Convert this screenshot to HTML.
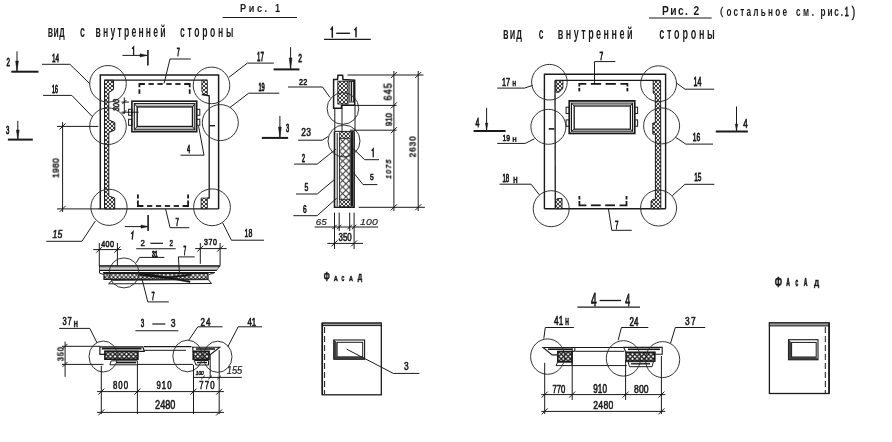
<!DOCTYPE html>
<html><head><meta charset="utf-8"><style>
html,body{margin:0;padding:0;background:#fff;width:892px;height:442px;overflow:hidden}
svg{display:block} text{will-change:transform}
text{font-family:"Liberation Sans",sans-serif}
</style></head><body>
<svg width="892" height="442" viewBox="0 0 892 442">
<defs>
<pattern id="dots" width="4" height="4" patternUnits="userSpaceOnUse"><rect width="4" height="4" fill="#1a1a1a"/><circle cx="0" cy="0" r="1.2" fill="#f0f0f0"/><circle cx="4" cy="0" r="1.2" fill="#f0f0f0"/><circle cx="0" cy="4" r="1.2" fill="#f0f0f0"/><circle cx="4" cy="4" r="1.2" fill="#f0f0f0"/><circle cx="2" cy="2" r="1.2" fill="#f0f0f0"/></pattern>
<pattern id="xdots" width="4.6" height="4.6" patternUnits="userSpaceOnUse"><rect width="4.6" height="4.6" fill="#fff"/><path d="M0,0 L4.6,4.6 M4.6,0 L0,4.6" stroke="#1a1a1a" stroke-width="1.3"/></pattern>
<pattern id="diam" width="4.2" height="4.2" patternUnits="userSpaceOnUse"><rect width="4.2" height="4.2" fill="#fff"/><path d="M-1,1 L1,-1 M0,4.2 L4.2,0 M3.2,5.2 L5.2,3.2 M-1,3.2 L1,5.2 M0,0 L4.2,4.2 M3.2,-1 L5.2,1" stroke="#222" stroke-width="1.0"/></pattern>
<pattern id="xh" width="6.5" height="6.5" patternUnits="userSpaceOnUse" x="339.4" y="138.3"><rect width="6.5" height="6.5" fill="#fff"/><path d="M0,0 L6.5,6.5 M6.5,0 L0,6.5" stroke="#333" stroke-width="1.0"/></pattern>
</defs>
<rect width="892" height="442" fill="#fff"/>
<text transform="translate(240.00,12.39) scale(0.800,1)" font-size="11.43" font-weight="bold" font-style="normal" fill="#1a1a1a" letter-spacing="3.26">Рис. 1</text>
<line x1="222.5" y1="17.5" x2="297" y2="17.5" stroke="#1a1a1a" stroke-width="1.2" />
<text transform="translate(47.80,36.80) scale(0.550,1)" font-size="15.66" font-weight="bold" font-style="normal" fill="#1a1a1a" letter-spacing="0.76">вид</text>
<text transform="translate(79.90,36.80) scale(0.564,1)" font-size="15.66" font-weight="bold" font-style="normal" fill="#1a1a1a">с</text>
<text transform="translate(95.60,36.80) scale(0.550,1)" font-size="15.66" font-weight="bold" font-style="normal" fill="#1a1a1a" letter-spacing="4.01">внутренней</text>
<text transform="translate(180.10,36.80) scale(0.550,1)" font-size="15.66" font-weight="bold" font-style="normal" fill="#1a1a1a" letter-spacing="4.83">стороны</text>
<polyline points="330.6,29.8 332.3,27.6 332.3,37.7" stroke="#1a1a1a" stroke-width="1.5" fill="none" />
<line x1="336.2" y1="33.3" x2="349.9" y2="33.3" stroke="#1a1a1a" stroke-width="1.4" />
<polyline points="354.4,30.3 356,28.3 356,37.3" stroke="#1a1a1a" stroke-width="1.5" fill="none" />
<line x1="324" y1="39.3" x2="370.8" y2="39.3" stroke="#1a1a1a" stroke-width="1.2" />
<text transform="translate(661.90,15.37) scale(0.800,1)" font-size="12.82" font-weight="bold" font-style="normal" fill="#1a1a1a" letter-spacing="1.79">Рис. 2</text>
<line x1="649" y1="18" x2="711.7" y2="18" stroke="#1a1a1a" stroke-width="1.2" />
<text transform="translate(720.05,14.92) scale(0.853,1)" font-size="11.55" font-weight="normal" font-style="normal" fill="#1a1a1a" stroke="#1a1a1a" stroke-width="0.35">(</text>
<text transform="translate(726.40,16.00) scale(0.620,1)" font-size="13.21" font-weight="bold" font-style="normal" fill="#1a1a1a" letter-spacing="3.60">остальное</text>
<text transform="translate(796.00,16.00) scale(0.620,1)" font-size="13.21" font-weight="bold" font-style="normal" fill="#1a1a1a" letter-spacing="4.12">см.</text>
<text transform="translate(820.50,16.00) scale(0.620,1)" font-size="13.21" font-weight="bold" font-style="normal" fill="#1a1a1a" letter-spacing="3.03">рис.</text>
<text transform="translate(844.73,15.77) scale(0.561,1)" font-size="12.68" font-weight="normal" font-style="normal" fill="#1a1a1a" stroke="#1a1a1a" stroke-width="0.80">1</text>
<text transform="translate(851.65,16.86) scale(0.734,1)" font-size="14.22" font-weight="normal" font-style="normal" fill="#1a1a1a" stroke="#1a1a1a" stroke-width="0.41">)</text>
<text transform="translate(503.00,38.70) scale(0.550,1)" font-size="16.42" font-weight="bold" font-style="normal" fill="#1a1a1a" letter-spacing="1.97">вид</text>
<text transform="translate(538.70,38.70) scale(0.516,1)" font-size="16.42" font-weight="bold" font-style="normal" fill="#1a1a1a">с</text>
<text transform="translate(557.70,38.70) scale(0.550,1)" font-size="16.42" font-weight="bold" font-style="normal" fill="#1a1a1a" letter-spacing="4.49">внутренней</text>
<text transform="translate(659.30,38.70) scale(0.550,1)" font-size="16.42" font-weight="bold" font-style="normal" fill="#1a1a1a" letter-spacing="4.99">стороны</text>
<text transform="translate(323.85,280.98) scale(0.517,1)" font-size="13.57" font-weight="bold" font-style="normal" fill="#1a1a1a" stroke="#1a1a1a" stroke-width="0.58">Ф</text>
<text transform="translate(333.68,280.62) scale(0.699,1)" font-size="8.04" font-weight="bold" font-style="normal" fill="#1a1a1a" stroke="#1a1a1a" stroke-width="0.50">А</text>
<text transform="translate(341.57,280.55) scale(0.489,1)" font-size="7.82" font-weight="bold" font-style="normal" fill="#1a1a1a" stroke="#1a1a1a" stroke-width="0.72">С</text>
<text transform="translate(349.07,280.62) scale(0.682,1)" font-size="8.04" font-weight="bold" font-style="normal" fill="#1a1a1a" stroke="#1a1a1a" stroke-width="0.51">А</text>
<text transform="translate(357.68,279.91) scale(0.713,1)" font-size="8.60" font-weight="bold" font-style="normal" fill="#1a1a1a" stroke="#1a1a1a" stroke-width="0.49">Д</text>
<text transform="translate(774.65,286.58) scale(0.623,1)" font-size="13.71" font-weight="bold" font-style="normal" fill="#1a1a1a" stroke="#1a1a1a" stroke-width="0.48">Ф</text>
<text transform="translate(786.27,286.22) scale(0.503,1)" font-size="10.07" font-weight="bold" font-style="normal" fill="#1a1a1a" stroke="#1a1a1a" stroke-width="0.70">А</text>
<text transform="translate(795.38,286.13) scale(0.376,1)" font-size="9.79" font-weight="bold" font-style="normal" fill="#1a1a1a" stroke="#1a1a1a" stroke-width="0.93">С</text>
<text transform="translate(803.77,286.22) scale(0.503,1)" font-size="10.07" font-weight="bold" font-style="normal" fill="#1a1a1a" stroke="#1a1a1a" stroke-width="0.70">А</text>
<text transform="translate(813.97,285.72) scale(0.802,1)" font-size="9.04" font-weight="bold" font-style="normal" fill="#1a1a1a" stroke="#1a1a1a" stroke-width="0.44">Д</text>
<polyline points="100.3,208.9 100.3,74.9 218.6,74.9 218.6,208.9" stroke="#1a1a1a" stroke-width="1.5" fill="none" />
<line x1="98" y1="208.9" x2="218.6" y2="208.9" stroke="#1a1a1a" stroke-width="1.4" />
<line x1="104.2" y1="80.2" x2="207.4" y2="80.2" stroke="#1a1a1a" stroke-width="1.3" />
<polyline points="201.8,94.5 209.2,95.8 209.2,198 207.4,198" stroke="#1a1a1a" stroke-width="1.3" fill="none" />
<polygon points="104.5,80.3 113.5,80.3 113.5,89.5 108.8,92.5 108.8,120 114.8,122.5 114.8,130 108.8,132.5 108.8,196 114.7,198 114.7,208.9 104.5,208.9" stroke="#1a1a1a" stroke-width="1.0" fill="url(#dots)" />
<polygon points="201.8,80.3 207.4,80.3 207.4,94.5 203.5,94.5 201.8,91" stroke="#1a1a1a" stroke-width="0.8" fill="url(#dots)" />
<polygon points="201.1,198.1 207.4,198.1 207.4,208.7 201.1,208.7" stroke="#1a1a1a" stroke-width="0.8" fill="url(#dots)" />
<line x1="139.4" y1="93.8" x2="139.4" y2="89.3" stroke="#1a1a1a" stroke-width="1.8" />
<polyline points="139.4,87.3 139.4,84 144.9,84" stroke="#1a1a1a" stroke-width="1.8" fill="none" />
<line x1="189.7" y1="93.8" x2="189.7" y2="89.3" stroke="#1a1a1a" stroke-width="1.8" />
<polyline points="189.7,87.3 189.7,84 184.2,84" stroke="#1a1a1a" stroke-width="1.8" fill="none" />
<line x1="148.5" y1="84" x2="153.82" y2="84" stroke="#1a1a1a" stroke-width="1.8" />
<line x1="157.42" y1="84" x2="162.75" y2="84" stroke="#1a1a1a" stroke-width="1.8" />
<line x1="166.35" y1="84" x2="171.67" y2="84" stroke="#1a1a1a" stroke-width="1.8" />
<line x1="175.27" y1="84" x2="180.6" y2="84" stroke="#1a1a1a" stroke-width="1.8" />
<line x1="137.9" y1="194.5" x2="137.9" y2="198.5" stroke="#1a1a1a" stroke-width="1.8" />
<polyline points="137.9,200.5 137.9,206 143.4,206" stroke="#1a1a1a" stroke-width="1.8" fill="none" />
<line x1="188.1" y1="194.5" x2="188.1" y2="198.5" stroke="#1a1a1a" stroke-width="1.8" />
<polyline points="188.1,200.5 188.1,206 182.6,206" stroke="#1a1a1a" stroke-width="1.8" fill="none" />
<line x1="147.0" y1="206" x2="152.3" y2="206" stroke="#1a1a1a" stroke-width="1.8" />
<line x1="155.9" y1="206" x2="161.2" y2="206" stroke="#1a1a1a" stroke-width="1.8" />
<line x1="164.8" y1="206" x2="170.1" y2="206" stroke="#1a1a1a" stroke-width="1.8" />
<line x1="173.7" y1="206" x2="179.0" y2="206" stroke="#1a1a1a" stroke-width="1.8" />
<rect x="131.9" y="101.2" width="64.8" height="30.5" stroke="#1a1a1a" stroke-width="1.6" fill="none" />
<rect x="134.3" y="103.6" width="60.5" height="26.2" stroke="#1a1a1a" stroke-width="1.1" fill="none" />
<rect x="137.2" y="106.9" width="55.3" height="19.6" stroke="#1a1a1a" stroke-width="1.4" fill="none" />
<line x1="134.3" y1="103.6" x2="137.2" y2="106.9" stroke="#1a1a1a" stroke-width="1.0" />
<line x1="194.8" y1="103.6" x2="192.5" y2="106.9" stroke="#1a1a1a" stroke-width="1.0" />
<line x1="134.3" y1="129.8" x2="137.2" y2="126.5" stroke="#1a1a1a" stroke-width="1.0" />
<line x1="194.8" y1="129.8" x2="192.5" y2="126.5" stroke="#1a1a1a" stroke-width="1.0" />
<line x1="135.5" y1="105.2" x2="193.5" y2="105.2" stroke="#666" stroke-width="0.7" />
<line x1="135.5" y1="128.2" x2="193.5" y2="128.2" stroke="#666" stroke-width="0.7" />
<rect x="128.6" y="109.3" width="3.3" height="6" stroke="#1a1a1a" stroke-width="1.0" fill="none" />
<rect x="196.7" y="109.3" width="3.1" height="6" stroke="#1a1a1a" stroke-width="1.0" fill="none" />
<rect x="128.6" y="119.3" width="3.3" height="6" stroke="#1a1a1a" stroke-width="1.0" fill="none" />
<rect x="196.7" y="119.3" width="3.1" height="6" stroke="#1a1a1a" stroke-width="1.0" fill="none" />
<line x1="209.5" y1="125.7" x2="215" y2="125.7" stroke="#1a1a1a" stroke-width="1.4" />
<circle cx="108" cy="83.8" r="18.3" stroke="#2a2a2a" stroke-width="0.95" fill="none"/>
<circle cx="211.5" cy="85.4" r="18.3" stroke="#2a2a2a" stroke-width="0.95" fill="none"/>
<circle cx="108" cy="126.2" r="18.3" stroke="#2a2a2a" stroke-width="0.95" fill="none"/>
<circle cx="220.3" cy="122.6" r="18.0" stroke="#2a2a2a" stroke-width="0.95" fill="none"/>
<circle cx="109" cy="207.3" r="18.1" stroke="#2a2a2a" stroke-width="0.95" fill="none"/>
<circle cx="212" cy="207.3" r="18.4" stroke="#2a2a2a" stroke-width="0.95" fill="none"/>
<line x1="124.3" y1="97.4" x2="124.3" y2="114" stroke="#1a1a1a" stroke-width="1.0" />
<line x1="121.4" y1="102.1" x2="129" y2="102.1" stroke="#1a1a1a" stroke-width="1.0" />
<line x1="121.4" y1="112.2" x2="138.6" y2="112.2" stroke="#1a1a1a" stroke-width="1.0" />
<line x1="122.3" y1="104.1" x2="126.3" y2="100.1" stroke="#1a1a1a" stroke-width="1.0" />
<line x1="122.3" y1="114.2" x2="126.3" y2="110.2" stroke="#1a1a1a" stroke-width="1.0" />
<text transform="translate(119.18,111.28) rotate(-90) scale(0.760,1)" font-size="9.65" font-weight="normal" font-style="italic" fill="#1a1a1a" stroke="#1a1a1a" stroke-width="0.59">300</text>
<line x1="57" y1="126.4" x2="98.4" y2="126.4" stroke="#1a1a1a" stroke-width="1.0" />
<line x1="57" y1="208.9" x2="98" y2="208.9" stroke="#1a1a1a" stroke-width="1.0" />
<line x1="62.6" y1="122" x2="62.6" y2="212" stroke="#1a1a1a" stroke-width="1.0" />
<line x1="59.6" y1="129.4" x2="65.6" y2="123.4" stroke="#1a1a1a" stroke-width="1.0" />
<line x1="59.6" y1="211.9" x2="65.6" y2="205.9" stroke="#1a1a1a" stroke-width="1.0" />
<text transform="translate(58.68,177.78) rotate(-90) scale(0.850,1)" font-size="9.93" font-weight="normal" font-style="normal" fill="#1a1a1a" letter-spacing="0.30" stroke="#1a1a1a" stroke-width="0.53">1980</text>
<line x1="17" y1="51.3" x2="17" y2="71" stroke="#1a1a1a" stroke-width="1.0" />
<polygon points="15.6,61 18.4,61 17,71" stroke="#1a1a1a" stroke-width="0.5" fill="#1a1a1a" />
<line x1="11.3" y1="71.7" x2="38.5" y2="71.7" stroke="#1a1a1a" stroke-width="2.0" />
<text transform="translate(6.52,66.28) scale(0.584,1)" font-size="10.64" font-weight="normal" font-style="normal" fill="#1a1a1a" stroke="#1a1a1a" stroke-width="0.77">2</text>
<line x1="290.6" y1="47.2" x2="290.6" y2="69" stroke="#1a1a1a" stroke-width="1.0" />
<polygon points="289.2,58 292,58 290.6,69" stroke="#1a1a1a" stroke-width="0.5" fill="#1a1a1a" />
<line x1="273.6" y1="69.4" x2="299.4" y2="69.4" stroke="#1a1a1a" stroke-width="2.0" />
<text transform="translate(298.23,62.38) scale(0.602,1)" font-size="10.93" font-weight="normal" font-style="normal" fill="#1a1a1a" stroke="#1a1a1a" stroke-width="0.75">2</text>
<line x1="17.8" y1="120.8" x2="17.8" y2="138.9" stroke="#1a1a1a" stroke-width="1.0" />
<polygon points="16.4,130 19.2,130 17.8,138.9" stroke="#1a1a1a" stroke-width="0.5" fill="#1a1a1a" />
<line x1="7.9" y1="139.6" x2="32.8" y2="139.6" stroke="#1a1a1a" stroke-width="2.0" />
<text transform="translate(5.92,134.06) scale(0.539,1)" font-size="11.20" font-weight="normal" font-style="normal" fill="#1a1a1a" stroke="#1a1a1a" stroke-width="0.83">3</text>
<line x1="279.9" y1="115.9" x2="279.9" y2="137.6" stroke="#1a1a1a" stroke-width="1.0" />
<polygon points="278.5,127 281.3,127 279.9,137.6" stroke="#1a1a1a" stroke-width="0.5" fill="#1a1a1a" />
<line x1="261.8" y1="137.9" x2="288.1" y2="137.9" stroke="#1a1a1a" stroke-width="2.0" />
<text transform="translate(286.03,132.26) scale(0.494,1)" font-size="11.48" font-weight="normal" font-style="normal" fill="#1a1a1a" stroke="#1a1a1a" stroke-width="0.91">3</text>
<line x1="147.9" y1="50" x2="147.9" y2="65.4" stroke="#1a1a1a" stroke-width="1.6" />
<line x1="122.5" y1="55.4" x2="147" y2="55.4" stroke="#1a1a1a" stroke-width="1.0" />
<polygon points="140,53.8 140,57 147,55.4" stroke="#1a1a1a" stroke-width="0.5" fill="#1a1a1a" />
<polyline points="132,48.8 133.6,47 133.6,55" stroke="#1a1a1a" stroke-width="1.3" fill="none" />
<line x1="148.1" y1="215" x2="148.1" y2="231" stroke="#1a1a1a" stroke-width="1.6" />
<line x1="124.8" y1="226.6" x2="148" y2="226.6" stroke="#1a1a1a" stroke-width="1.0" />
<polygon points="141,225 141,228.2 148,226.6" stroke="#1a1a1a" stroke-width="0.5" fill="#1a1a1a" />
<polyline points="131.2,233.8 133,231.8 132.2,239.6" stroke="#1a1a1a" stroke-width="1.3" fill="none" />
<polyline points="41.9,64.3 69.9,64.3 89.8,83.6" stroke="#1a1a1a" stroke-width="1.0" fill="none" />
<text transform="translate(52.02,61.98) scale(0.544,1)" font-size="11.67" font-weight="normal" font-style="normal" fill="#1a1a1a" letter-spacing="-0.00" stroke="#1a1a1a" stroke-width="0.83">14</text>
<polyline points="43.1,95.4 71.8,95.4 92.3,116.6" stroke="#1a1a1a" stroke-width="1.0" fill="none" />
<text transform="translate(52.02,92.66) scale(0.471,1)" font-size="11.20" font-weight="normal" font-style="normal" fill="#1a1a1a" stroke="#1a1a1a" stroke-width="0.96">16</text>
<polyline points="46.3,241.3 81.9,241.3 95.4,220.9" stroke="#1a1a1a" stroke-width="1.0" fill="none" />
<text transform="translate(52.62,237.67) scale(0.811,1)" font-size="10.79" font-weight="normal" font-style="italic" fill="#1a1a1a" stroke="#1a1a1a" stroke-width="0.56">15</text>
<polyline points="273.8,63.1 247.4,63.1 229,77.3" stroke="#1a1a1a" stroke-width="1.0" fill="none" />
<text transform="translate(257.12,60.78) scale(0.464,1)" font-size="13.12" font-weight="normal" font-style="normal" fill="#1a1a1a" stroke="#1a1a1a" stroke-width="0.97">17</text>
<polyline points="279.3,93.2 248.7,93.2 230,107.5" stroke="#1a1a1a" stroke-width="1.0" fill="none" />
<text transform="translate(258.43,91.46) scale(0.492,1)" font-size="11.62" font-weight="normal" font-style="normal" fill="#1a1a1a" stroke="#1a1a1a" stroke-width="0.91">19</text>
<polyline points="190.8,59 170,59 164,83.5" stroke="#1a1a1a" stroke-width="1.0" fill="none" />
<text transform="translate(176.72,56.28) scale(0.471,1)" font-size="11.67" font-weight="normal" font-style="normal" fill="#1a1a1a" stroke="#1a1a1a" stroke-width="0.96">7</text>
<polyline points="165.6,209 170.1,227.7 189.3,227.7" stroke="#1a1a1a" stroke-width="1.0" fill="none" />
<text transform="translate(175.53,225.78) scale(0.599,1)" font-size="10.07" font-weight="normal" font-style="normal" fill="#1a1a1a" stroke="#1a1a1a" stroke-width="0.75">7</text>
<polyline points="198.6,126.2 204,155.2 180.5,155.2" stroke="#1a1a1a" stroke-width="1.0" fill="none" />
<text transform="translate(187.03,153.08) scale(0.499,1)" font-size="11.38" font-weight="normal" font-style="normal" fill="#1a1a1a" stroke="#1a1a1a" stroke-width="0.90">4</text>
<polyline points="222.6,222.6 231.4,240.2 264,240.2" stroke="#1a1a1a" stroke-width="1.0" fill="none" />
<text transform="translate(244.53,237.17) scale(0.648,1)" font-size="10.77" font-weight="normal" font-style="normal" fill="#1a1a1a" stroke="#1a1a1a" stroke-width="0.69">18</text>
<polygon points="333.6,108.2 333.6,79.4 337.5,79.4 338,75.3 342.6,75.2 343,79.6 354.7,80.2 354.7,105.3 341.5,105.3 341.5,108.2" stroke="#1a1a1a" stroke-width="1.5" fill="none" />
<rect x="337.8" y="81.2" width="10.2" height="22.8" stroke="#1a1a1a" stroke-width="0.9" fill="url(#dots)" />
<rect x="349.2" y="81.5" width="4.4" height="20.5" stroke="#1a1a1a" stroke-width="0.9" fill="#fff" />
<line x1="351.4" y1="82" x2="351.4" y2="101.5" stroke="#1a1a1a" stroke-width="1.5" />
<line x1="334.8" y1="108.2" x2="334.8" y2="131.4" stroke="#1a1a1a" stroke-width="1.0" />
<line x1="342" y1="105.3" x2="342" y2="131.4" stroke="#1a1a1a" stroke-width="1.0" />
<line x1="355" y1="105.3" x2="355" y2="131.4" stroke="#1a1a1a" stroke-width="1.0" />
<polyline points="334.5,131.4 334.5,207.2 354.1,207.2 354.1,131.4" stroke="#1a1a1a" stroke-width="1.6" fill="none" />
<line x1="334.5" y1="131.4" x2="354.1" y2="131.4" stroke="#1a1a1a" stroke-width="1.0" />
<line x1="337.2" y1="133" x2="337.2" y2="206" stroke="#1a1a1a" stroke-width="1.0" />
<rect x="339.4" y="131.8" width="10.8" height="6.5" stroke="#1a1a1a" stroke-width="0.6" fill="url(#dots)" />
<rect x="339.4" y="138.3" width="10.8" height="61.6" stroke="#1a1a1a" stroke-width="0.9" fill="url(#xh)" />
<rect x="339.4" y="199.9" width="10.8" height="6.8" stroke="#1a1a1a" stroke-width="0.6" fill="url(#dots)" />
<line x1="351.9" y1="132" x2="351.9" y2="206.5" stroke="#1a1a1a" stroke-width="2.2" />
<circle cx="342.9" cy="108.5" r="15.8" stroke="#2a2a2a" stroke-width="0.95" fill="none"/>
<circle cx="344" cy="141" r="16" stroke="#2a2a2a" stroke-width="0.95" fill="none"/>
<line x1="347.5" y1="75" x2="423.5" y2="75" stroke="#1a1a1a" stroke-width="1.0" />
<line x1="342.8" y1="105.4" x2="396.6" y2="105.4" stroke="#1a1a1a" stroke-width="1.0" />
<line x1="350" y1="130.2" x2="396.6" y2="130.2" stroke="#1a1a1a" stroke-width="1.0" />
<line x1="358.7" y1="207.3" x2="424.9" y2="207.3" stroke="#1a1a1a" stroke-width="1.0" />
<line x1="393.9" y1="71" x2="393.9" y2="211" stroke="#1a1a1a" stroke-width="1.0" />
<line x1="418.2" y1="71" x2="418.2" y2="211" stroke="#1a1a1a" stroke-width="1.0" />
<line x1="390.9" y1="78" x2="396.9" y2="72" stroke="#1a1a1a" stroke-width="1.0" />
<line x1="390.9" y1="108.4" x2="396.9" y2="102.4" stroke="#1a1a1a" stroke-width="1.0" />
<line x1="390.9" y1="133.2" x2="396.9" y2="127.19999999999999" stroke="#1a1a1a" stroke-width="1.0" />
<line x1="390.9" y1="210.3" x2="396.9" y2="204.3" stroke="#1a1a1a" stroke-width="1.0" />
<line x1="415.2" y1="78" x2="421.2" y2="72" stroke="#1a1a1a" stroke-width="1.0" />
<line x1="415.2" y1="210.3" x2="421.2" y2="204.3" stroke="#1a1a1a" stroke-width="1.0" />
<text transform="translate(391.67,100.48) rotate(-90) scale(0.850,1)" font-size="10.63" font-weight="normal" font-style="normal" fill="#1a1a1a" letter-spacing="1.27" stroke="#1a1a1a" stroke-width="0.53">645</text>
<text transform="translate(391.68,126.08) rotate(-90) scale(0.793,1)" font-size="9.93" font-weight="normal" font-style="normal" fill="#1a1a1a" stroke="#1a1a1a" stroke-width="0.57">910</text>
<text transform="translate(391.10,178.68) rotate(-90) scale(0.850,1)" font-size="7.96" font-weight="normal" font-style="italic" fill="#1a1a1a" letter-spacing="1.48" stroke="#1a1a1a" stroke-width="0.53">1075</text>
<text transform="translate(415.48,157.28) rotate(-90) scale(0.850,1)" font-size="9.51" font-weight="normal" font-style="normal" fill="#1a1a1a" letter-spacing="1.13" stroke="#1a1a1a" stroke-width="0.53">2630</text>
<polyline points="288,87 322.5,87 330,97.5" stroke="#1a1a1a" stroke-width="1.0" fill="none" />
<text transform="translate(299.03,84.97) scale(0.750,1)" font-size="9.64" font-weight="normal" font-style="normal" fill="#1a1a1a" letter-spacing="0.30" stroke="#1a1a1a" stroke-width="0.60">22</text>
<polyline points="298.1,140.2 322.2,140.2 328.2,136.5" stroke="#1a1a1a" stroke-width="1.0" fill="none" />
<text transform="translate(301.23,136.16) scale(0.750,1)" font-size="11.34" font-weight="normal" font-style="normal" fill="#1a1a1a" letter-spacing="0.41" stroke="#1a1a1a" stroke-width="0.60">23</text>
<polyline points="294.2,164.1 317.2,164.1 335.8,149.2" stroke="#1a1a1a" stroke-width="1.0" fill="none" />
<text transform="translate(302.12,161.78) scale(0.462,1)" font-size="11.50" font-weight="normal" font-style="normal" fill="#1a1a1a" stroke="#1a1a1a" stroke-width="0.97">2</text>
<polyline points="352.8,148.4 364.7,159.7 379,159.7" stroke="#1a1a1a" stroke-width="1.0" fill="none" />
<polyline points="371.6,150.8 373.2,149 373.2,157.2" stroke="#1a1a1a" stroke-width="1.3" fill="none" />
<polyline points="353.6,172.7 363,184.6 377.4,184.6" stroke="#1a1a1a" stroke-width="1.0" fill="none" />
<text transform="translate(370.03,180.08) scale(0.745,1)" font-size="9.07" font-weight="normal" font-style="normal" fill="#1a1a1a" stroke="#1a1a1a" stroke-width="0.60">5</text>
<polyline points="296,194 317.2,194 334.5,179.5" stroke="#1a1a1a" stroke-width="1.0" fill="none" />
<text transform="translate(304.62,191.07) scale(0.679,1)" font-size="10.21" font-weight="normal" font-style="normal" fill="#1a1a1a" stroke="#1a1a1a" stroke-width="0.66">5</text>
<polyline points="293.4,215.7 317.2,215.7 336.7,198.2" stroke="#1a1a1a" stroke-width="1.0" fill="none" />
<text transform="translate(303.12,213.37) scale(0.635,1)" font-size="10.35" font-weight="normal" font-style="normal" fill="#1a1a1a" stroke="#1a1a1a" stroke-width="0.71">6</text>
<line x1="334.5" y1="212.6" x2="334.5" y2="249" stroke="#1a1a1a" stroke-width="1.0" />
<line x1="339.2" y1="212.6" x2="339.2" y2="231" stroke="#1a1a1a" stroke-width="1.0" />
<line x1="349.7" y1="212.6" x2="349.7" y2="231" stroke="#1a1a1a" stroke-width="1.0" />
<line x1="354.1" y1="212.6" x2="354.1" y2="249" stroke="#1a1a1a" stroke-width="1.0" />
<line x1="314.6" y1="227" x2="378.2" y2="227" stroke="#1a1a1a" stroke-width="1.0" />
<line x1="332.3" y1="229.2" x2="336.7" y2="224.8" stroke="#1a1a1a" stroke-width="1.0" />
<line x1="337.0" y1="229.2" x2="341.4" y2="224.8" stroke="#1a1a1a" stroke-width="1.0" />
<line x1="347.5" y1="229.2" x2="351.9" y2="224.8" stroke="#1a1a1a" stroke-width="1.0" />
<line x1="351.90000000000003" y1="229.2" x2="356.3" y2="224.8" stroke="#1a1a1a" stroke-width="1.0" />
<text transform="translate(315.68,224.73) scale(1.042,1)" font-size="9.51" font-weight="normal" font-style="italic" fill="#1a1a1a" stroke="#1a1a1a" stroke-width="0.14">65</text>
<text transform="translate(359.88,224.73) scale(1.100,1)" font-size="9.51" font-weight="normal" font-style="italic" fill="#1a1a1a" letter-spacing="0.18" stroke="#1a1a1a" stroke-width="0.14">100</text>
<line x1="327.3" y1="243.4" x2="363" y2="243.4" stroke="#1a1a1a" stroke-width="1.0" />
<line x1="331.5" y1="246.4" x2="337.5" y2="240.4" stroke="#1a1a1a" stroke-width="1.0" />
<line x1="351.1" y1="246.4" x2="357.1" y2="240.4" stroke="#1a1a1a" stroke-width="1.0" />
<text transform="translate(338.62,241.06) scale(0.694,1)" font-size="11.34" font-weight="normal" font-style="normal" fill="#1a1a1a" stroke="#1a1a1a" stroke-width="0.65">350</text>
<text transform="translate(140.42,246.28) scale(0.938,1)" font-size="8.36" font-weight="normal" font-style="normal" fill="#1a1a1a" stroke="#1a1a1a" stroke-width="0.48">2</text>
<line x1="150.4" y1="243.3" x2="163" y2="243.3" stroke="#1a1a1a" stroke-width="1.2" />
<text transform="translate(169.53,246.28) scale(0.744,1)" font-size="8.36" font-weight="normal" font-style="normal" fill="#1a1a1a" stroke="#1a1a1a" stroke-width="0.60">2</text>
<line x1="136.2" y1="248.7" x2="175.7" y2="248.7" stroke="#1a1a1a" stroke-width="1.1" />
<line x1="93.2" y1="249.6" x2="121.4" y2="249.6" stroke="#1a1a1a" stroke-width="1.0" />
<line x1="96.3" y1="252.6" x2="102.3" y2="246.6" stroke="#1a1a1a" stroke-width="1.0" />
<line x1="114.4" y1="252.6" x2="120.4" y2="246.6" stroke="#1a1a1a" stroke-width="1.0" />
<line x1="99.3" y1="243" x2="99.3" y2="266" stroke="#1a1a1a" stroke-width="1.0" />
<line x1="117.4" y1="243" x2="117.4" y2="266" stroke="#1a1a1a" stroke-width="1.0" />
<text transform="translate(101.22,246.68) scale(0.750,1)" font-size="9.65" font-weight="normal" font-style="normal" fill="#1a1a1a" letter-spacing="0.51" stroke="#1a1a1a" stroke-width="0.60">400</text>
<line x1="195.2" y1="248.6" x2="226.7" y2="248.6" stroke="#1a1a1a" stroke-width="1.0" />
<line x1="197.3" y1="251.6" x2="203.3" y2="245.6" stroke="#1a1a1a" stroke-width="1.0" />
<line x1="217.1" y1="251.6" x2="223.1" y2="245.6" stroke="#1a1a1a" stroke-width="1.0" />
<line x1="200.3" y1="243" x2="200.3" y2="263.8" stroke="#1a1a1a" stroke-width="1.0" />
<line x1="220.1" y1="243" x2="220.1" y2="265.4" stroke="#1a1a1a" stroke-width="1.0" />
<text transform="translate(204.03,245.38) scale(0.750,1)" font-size="9.37" font-weight="normal" font-style="normal" fill="#1a1a1a" letter-spacing="0.75" stroke="#1a1a1a" stroke-width="0.60">370</text>
<polygon points="99.5,265.8 220.1,265.8 216.6,270.3 99.5,270.3" stroke="#1a1a1a" stroke-width="0.9" fill="#aaa" />
<line x1="99.5" y1="266" x2="220.1" y2="266" stroke="#1a1a1a" stroke-width="1.2" />
<line x1="99.5" y1="268.8" x2="218.5" y2="268.8" stroke="#eee" stroke-width="0.8" />
<line x1="99.5" y1="270.5" x2="216.6" y2="270.5" stroke="#1a1a1a" stroke-width="1.0" />
<polyline points="99.5,270.3 99.5,273.1 103.6,274.5" stroke="#1a1a1a" stroke-width="1.0" fill="none" />
<line x1="103" y1="272.5" x2="215" y2="272.5" stroke="#1a1a1a" stroke-width="1.0" />
<line x1="215" y1="272.5" x2="208.9" y2="274.5" stroke="#1a1a1a" stroke-width="1.0" />
<polygon points="104,273.5 208,273.5 208,279.3 104,279.3" stroke="#1a1a1a" stroke-width="1.2" fill="url(#diam)" />
<polygon points="112.2,280.3 208.4,279.6 211.5,283.5 108.6,283.8" stroke="#1a1a1a" stroke-width="1.0" fill="#fff" />
<polygon points="139,274 166,277 191,274 191,275.5 166,278.5 139,275.5" stroke="#1a1a1a" stroke-width="0.5" fill="#111" />
<polygon points="140,272.6 166,276.5 190,281 190,282.5 166,278 140,274" stroke="#1a1a1a" stroke-width="0.5" fill="#111" />
<circle cx="124" cy="272.9" r="15" stroke="#2a2a2a" stroke-width="0.95" fill="none"/>
<polyline points="164.4,257.4 139.5,257.4 136.2,262.8" stroke="#1a1a1a" stroke-width="1.0" fill="none" />
<text transform="translate(152.00,256.61) scale(0.561,1)" font-size="9.15" font-weight="normal" font-style="normal" fill="#1a1a1a" stroke="#1a1a1a" stroke-width="1.07">31</text>
<polyline points="194.7,256.9 178.4,256.9 179.4,272.5" stroke="#1a1a1a" stroke-width="1.0" fill="none" />
<text transform="translate(183.62,254.88) scale(0.368,1)" font-size="12.97" font-weight="normal" font-style="normal" fill="#1a1a1a" stroke="#1a1a1a" stroke-width="1.22">7</text>
<polyline points="141.9,278.6 147.8,301.9 168.8,301.9" stroke="#1a1a1a" stroke-width="1.0" fill="none" />
<text transform="translate(151.62,299.78) scale(0.519,1)" font-size="10.94" font-weight="normal" font-style="normal" fill="#1a1a1a" stroke="#1a1a1a" stroke-width="0.87">7</text>
<text transform="translate(140.82,326.97) scale(0.600,1)" font-size="10.35" font-weight="normal" font-style="normal" fill="#1a1a1a" stroke="#1a1a1a" stroke-width="0.75">3</text>
<line x1="152.3" y1="324" x2="165.3" y2="324" stroke="#1a1a1a" stroke-width="1.2" />
<text transform="translate(170.72,326.97) scale(0.827,1)" font-size="10.35" font-weight="normal" font-style="normal" fill="#1a1a1a" stroke="#1a1a1a" stroke-width="0.54">3</text>
<line x1="135.4" y1="330.7" x2="178.3" y2="330.7" stroke="#1a1a1a" stroke-width="1.1" />
<line x1="65.1" y1="341.6" x2="65.1" y2="376.8" stroke="#1a1a1a" stroke-width="1.0" />
<line x1="62" y1="346.3" x2="100.4" y2="346.3" stroke="#1a1a1a" stroke-width="1.0" />
<line x1="62" y1="364.4" x2="103.5" y2="364.4" stroke="#1a1a1a" stroke-width="1.0" />
<line x1="62.599999999999994" y1="348.8" x2="67.6" y2="343.8" stroke="#1a1a1a" stroke-width="1.0" />
<line x1="62.599999999999994" y1="366.9" x2="67.6" y2="361.9" stroke="#1a1a1a" stroke-width="1.0" />
<text transform="translate(63.49,360.97) rotate(-90) scale(0.850,1)" font-size="8.52" font-weight="normal" font-style="normal" fill="#1a1a1a" letter-spacing="1.09" stroke="#1a1a1a" stroke-width="0.53">350</text>
<polygon points="99.9,346.8 142.9,346.8 144.2,351.3 105.3,351.3 105.3,354.4 99.9,354.4" stroke="#1a1a1a" stroke-width="1.2" fill="#fff" />
<line x1="101.8" y1="348.4" x2="141.5" y2="348.4" stroke="#1a1a1a" stroke-width="2.0" />
<line x1="144" y1="346.6" x2="191.5" y2="346.6" stroke="#1a1a1a" stroke-width="1.1" />
<line x1="144" y1="350.3" x2="186" y2="350.3" stroke="#1a1a1a" stroke-width="1.0" />
<rect x="104.9" y="351.3" width="33" height="7.9" stroke="#1a1a1a" stroke-width="1.6" fill="url(#xdots)" />
<polygon points="111.2,360.8 137.4,360.8 137.4,364.8 109.9,364.8" stroke="#1a1a1a" stroke-width="1.0" fill="#fff" />
<line x1="116" y1="362.6" x2="136" y2="362.6" stroke="#1a1a1a" stroke-width="1.6" />
<line x1="137.9" y1="364.4" x2="193" y2="364.4" stroke="#1a1a1a" stroke-width="1.0" />
<polygon points="192.6,347.2 219.8,347.2 210.2,354.8 209,354.8 209,351.4 193.2,351.4" stroke="#1a1a1a" stroke-width="1.1" fill="#fff" />
<line x1="196" y1="349" x2="215" y2="349" stroke="#1a1a1a" stroke-width="1.6" />
<rect x="193.2" y="351.4" width="15.8" height="7.9" stroke="#1a1a1a" stroke-width="1.6" fill="url(#xdots)" />
<polygon points="194.3,360.5 208.5,360.5 208.5,365 196,365" stroke="#1a1a1a" stroke-width="1.0" fill="#fff" />
<line x1="197" y1="362.5" x2="207" y2="362.5" stroke="#1a1a1a" stroke-width="1.4" />
<ellipse cx="103.3" cy="356.5" rx="14.3" ry="15.5" stroke="#2a2a2a" stroke-width="0.95" fill="none"/>
<ellipse cx="187.5" cy="356" rx="14.7" ry="15.8" stroke="#2a2a2a" stroke-width="0.95" fill="none"/>
<ellipse cx="217.7" cy="356.8" rx="14.3" ry="15.6" stroke="#2a2a2a" stroke-width="0.95" fill="none"/>
<line x1="101.3" y1="365.7" x2="101.3" y2="414" stroke="#1a1a1a" stroke-width="1.0" />
<line x1="137.4" y1="364.5" x2="137.4" y2="414" stroke="#1a1a1a" stroke-width="1.0" />
<line x1="193.5" y1="365" x2="193.5" y2="414" stroke="#1a1a1a" stroke-width="1.0" />
<line x1="210.2" y1="355" x2="210.2" y2="378" stroke="#1a1a1a" stroke-width="1.0" />
<line x1="219.2" y1="350" x2="219.2" y2="414" stroke="#1a1a1a" stroke-width="1.0" />
<line x1="97.1" y1="391.6" x2="223.9" y2="391.6" stroke="#1a1a1a" stroke-width="1.0" />
<line x1="98.3" y1="394.6" x2="104.3" y2="388.6" stroke="#1a1a1a" stroke-width="1.0" />
<line x1="134.4" y1="394.6" x2="140.4" y2="388.6" stroke="#1a1a1a" stroke-width="1.0" />
<line x1="190.5" y1="394.6" x2="196.5" y2="388.6" stroke="#1a1a1a" stroke-width="1.0" />
<line x1="216.2" y1="394.6" x2="222.2" y2="388.6" stroke="#1a1a1a" stroke-width="1.0" />
<line x1="97.1" y1="412.4" x2="223.9" y2="412.4" stroke="#1a1a1a" stroke-width="1.0" />
<line x1="98.3" y1="415.4" x2="104.3" y2="409.4" stroke="#1a1a1a" stroke-width="1.0" />
<line x1="216.2" y1="415.4" x2="222.2" y2="409.4" stroke="#1a1a1a" stroke-width="1.0" />
<text transform="translate(112.92,389.47) scale(0.750,1)" font-size="10.35" font-weight="normal" font-style="normal" fill="#1a1a1a" letter-spacing="1.52" stroke="#1a1a1a" stroke-width="0.60">800</text>
<text transform="translate(156.42,389.47) scale(0.750,1)" font-size="10.35" font-weight="normal" font-style="normal" fill="#1a1a1a" letter-spacing="1.46" stroke="#1a1a1a" stroke-width="0.60">910</text>
<text transform="translate(199.32,389.47) scale(0.750,1)" font-size="10.35" font-weight="normal" font-style="normal" fill="#1a1a1a" letter-spacing="1.52" stroke="#1a1a1a" stroke-width="0.60">770</text>
<text transform="translate(155.12,408.95) scale(0.750,1)" font-size="12.18" font-weight="normal" font-style="normal" fill="#1a1a1a" letter-spacing="0.01" stroke="#1a1a1a" stroke-width="0.60">2480</text>
<line x1="193.2" y1="377.4" x2="241.8" y2="377.4" stroke="#1a1a1a" stroke-width="1.0" />
<line x1="201.2" y1="379.2" x2="204.8" y2="375.59999999999997" stroke="#1a1a1a" stroke-width="1.0" />
<line x1="208.39999999999998" y1="379.2" x2="212.0" y2="375.59999999999997" stroke="#1a1a1a" stroke-width="1.0" />
<line x1="217.39999999999998" y1="379.2" x2="221.0" y2="375.59999999999997" stroke="#1a1a1a" stroke-width="1.0" />
<text transform="translate(195.72,374.93) scale(0.950,1)" font-size="5.00" font-weight="normal" font-style="italic" fill="#1a1a1a" letter-spacing="0.06" stroke="#1a1a1a" stroke-width="0.47">100</text>
<text transform="translate(226.70,374.39) scale(0.849,1)" font-size="11.00" font-weight="normal" font-style="italic" fill="#1a1a1a" stroke="#1a1a1a" stroke-width="0.24">155</text>
<polyline points="59.2,328.4 89.8,328.4 97.1,343" stroke="#1a1a1a" stroke-width="1.0" fill="none" />
<text transform="translate(62.62,325.47) scale(0.750,1)" font-size="10.07" font-weight="normal" font-style="normal" fill="#1a1a1a" letter-spacing="1.02" stroke="#1a1a1a" stroke-width="0.60">37</text>
<text transform="translate(73.50,326.60) scale(0.672,1)" font-size="11.32" font-weight="bold" font-style="normal" fill="#1a1a1a" stroke="#1a1a1a" stroke-width="0.30">н</text>
<polyline points="222.6,326.8 197.8,326.8 188.7,340.3" stroke="#1a1a1a" stroke-width="1.0" fill="none" />
<text transform="translate(200.62,325.78) scale(0.750,1)" font-size="10.79" font-weight="normal" font-style="normal" fill="#1a1a1a" letter-spacing="1.29" stroke="#1a1a1a" stroke-width="0.60">24</text>
<polyline points="262,326.8 238.2,326.8 227.8,346.8" stroke="#1a1a1a" stroke-width="1.0" fill="none" />
<text transform="translate(247.53,325.78) scale(0.712,1)" font-size="10.94" font-weight="normal" font-style="normal" fill="#1a1a1a" stroke="#1a1a1a" stroke-width="0.63">41</text>
<rect x="322.3" y="323.1" width="59" height="71.7" stroke="#1a1a1a" stroke-width="1.3" fill="none" />
<rect x="322.3" y="323.1" width="59" height="2.5" stroke="#1a1a1a" stroke-width="1.0" fill="#999" />
<line x1="322.3" y1="323.1" x2="322.3" y2="394.8" stroke="#1a1a1a" stroke-width="1.6" />
<line x1="324.6" y1="327" x2="324.6" y2="394" stroke="#1a1a1a" stroke-width="1.0" stroke-dasharray="6,3"/>
<rect x="333.8" y="340" width="30.8" height="19.2" stroke="#1a1a1a" stroke-width="1.1" fill="none" />
<rect x="337.1" y="342.3" width="25.6" height="14.6" stroke="#1a1a1a" stroke-width="1.0" fill="none" />
<polygon points="333.8,340 336.3,342.3 336.3,357.3 362.7,357.3 364.6,359.2 333.8,359.2" stroke="#1a1a1a" stroke-width="0.6" fill="#444" />
<polyline points="346.7,349.2 393.3,373.4 419.4,373.4" stroke="#1a1a1a" stroke-width="1.0" fill="none" />
<text transform="translate(404.03,370.06) scale(0.748,1)" font-size="11.20" font-weight="normal" font-style="normal" fill="#1a1a1a" stroke="#1a1a1a" stroke-width="0.60">3</text>
<polyline points="544.4,208.7 544.4,74.2 665.6,74.2 665.6,208.7" stroke="#1a1a1a" stroke-width="1.4" fill="none" />
<line x1="544.4" y1="208.7" x2="665.6" y2="208.7" stroke="#1a1a1a" stroke-width="1.6" />
<line x1="555" y1="80.3" x2="660.4" y2="80.3" stroke="#1a1a1a" stroke-width="1.3" />
<line x1="555" y1="80.3" x2="555.3" y2="208.7" stroke="#1a1a1a" stroke-width="1.3" />
<polygon points="555.9,80.6 562.9,80.6 562.9,88.5 559,92.2 555.9,92.2" stroke="#1a1a1a" stroke-width="0.9" fill="url(#dots)" />
<polygon points="555.6,200 557.5,198.5 562,198.5 562,208.7 555.6,208.7" stroke="#1a1a1a" stroke-width="0.9" fill="url(#dots)" />
<polygon points="653.2,80.6 660.6,80.6 660.8,208.7 651.1,208.7 651.1,201 653,199.4 655.4,199.4 655.4,134.1 652.8,134.1 652.8,123 655.3,123 655.3,95 653.2,93" stroke="#1a1a1a" stroke-width="1.0" fill="url(#dots)" />
<line x1="579.3" y1="91.4" x2="579.3" y2="87.9" stroke="#1a1a1a" stroke-width="1.8" />
<polyline points="579.3,86.4 579.3,83.9 586.3,83.9" stroke="#1a1a1a" stroke-width="1.8" fill="none" />
<line x1="627.4" y1="91.4" x2="627.4" y2="87.9" stroke="#1a1a1a" stroke-width="1.8" />
<polyline points="627.4,86.4 627.4,83.9 620.4,83.9" stroke="#1a1a1a" stroke-width="1.8" fill="none" />
<line x1="590.8" y1="83.9" x2="601.1" y2="83.9" stroke="#1a1a1a" stroke-width="1.8" />
<line x1="605.6" y1="83.9" x2="615.9" y2="83.9" stroke="#1a1a1a" stroke-width="1.8" />
<line x1="579.4" y1="196" x2="579.4" y2="199.5" stroke="#1a1a1a" stroke-width="1.8" />
<polyline points="579.4,201.0 579.4,205.3 586.4,205.3" stroke="#1a1a1a" stroke-width="1.8" fill="none" />
<line x1="626.5" y1="196" x2="626.5" y2="199.5" stroke="#1a1a1a" stroke-width="1.8" />
<polyline points="626.5,201.0 626.5,205.3 619.5,205.3" stroke="#1a1a1a" stroke-width="1.8" fill="none" />
<line x1="590.9" y1="205.3" x2="600.7" y2="205.3" stroke="#1a1a1a" stroke-width="1.8" />
<line x1="605.2" y1="205.3" x2="615.0" y2="205.3" stroke="#1a1a1a" stroke-width="1.8" />
<rect x="569.3" y="100.9" width="65.4" height="32.5" stroke="#1a1a1a" stroke-width="1.8" fill="none" />
<rect x="571.5" y="103.1" width="61" height="28.1" stroke="#1a1a1a" stroke-width="1.0" fill="none" />
<rect x="574.2" y="106" width="56.2" height="23.2" stroke="#1a1a1a" stroke-width="1.3" fill="none" />
<line x1="571.5" y1="103.1" x2="574.2" y2="106" stroke="#1a1a1a" stroke-width="1.0" />
<line x1="632.5" y1="103.1" x2="630.4" y2="106" stroke="#1a1a1a" stroke-width="1.0" />
<line x1="571.5" y1="131.2" x2="574.2" y2="129.2" stroke="#1a1a1a" stroke-width="1.0" />
<line x1="632.5" y1="131.2" x2="630.4" y2="129.2" stroke="#1a1a1a" stroke-width="1.0" />
<line x1="572.8" y1="104.6" x2="631.2" y2="104.6" stroke="#666" stroke-width="0.7" />
<line x1="572.8" y1="130" x2="631.2" y2="130" stroke="#666" stroke-width="0.7" />
<rect x="566.1" y="107.2" width="3.2" height="6.3" stroke="#1a1a1a" stroke-width="1.0" fill="none" />
<rect x="634.7" y="107.2" width="2.9" height="6.3" stroke="#1a1a1a" stroke-width="1.0" fill="none" />
<rect x="566.1" y="119.9" width="3.2" height="6.3" stroke="#1a1a1a" stroke-width="1.0" fill="none" />
<rect x="634.7" y="119.9" width="2.9" height="6.3" stroke="#1a1a1a" stroke-width="1.0" fill="none" />
<line x1="548.7" y1="128.9" x2="554.3" y2="128.9" stroke="#1a1a1a" stroke-width="1.6" />
<circle cx="549.4" cy="82.2" r="17.8" stroke="#2a2a2a" stroke-width="0.95" fill="none"/>
<circle cx="658.6" cy="83.7" r="17.9" stroke="#2a2a2a" stroke-width="0.95" fill="none"/>
<circle cx="548.4" cy="126.8" r="17.5" stroke="#2a2a2a" stroke-width="0.95" fill="none"/>
<circle cx="661.6" cy="125.9" r="18" stroke="#2a2a2a" stroke-width="0.95" fill="none"/>
<circle cx="551.2" cy="208.7" r="18" stroke="#2a2a2a" stroke-width="0.95" fill="none"/>
<circle cx="658.6" cy="208" r="18" stroke="#2a2a2a" stroke-width="0.95" fill="none"/>
<polyline points="497.2,88.1 524.4,88.1 532.6,85.4" stroke="#1a1a1a" stroke-width="1.0" fill="none" />
<text transform="translate(502.03,86.07) scale(0.654,1)" font-size="11.09" font-weight="normal" font-style="normal" fill="#1a1a1a" letter-spacing="-0.00" stroke="#1a1a1a" stroke-width="0.69">17</text>
<text transform="translate(512.20,86.20) scale(0.674,1)" font-size="9.81" font-weight="bold" font-style="normal" fill="#1a1a1a" stroke="#1a1a1a" stroke-width="0.30">н</text>
<polyline points="676.2,82.8 685,89.2 714.2,89.2" stroke="#1a1a1a" stroke-width="1.0" fill="none" />
<text transform="translate(693.52,86.07) scale(0.551,1)" font-size="12.83" font-weight="normal" font-style="normal" fill="#1a1a1a" stroke="#1a1a1a" stroke-width="0.82">14</text>
<polyline points="497.2,143.4 525.3,143.4 534.4,138.8" stroke="#1a1a1a" stroke-width="1.0" fill="none" />
<text transform="translate(502.53,141.28) scale(0.705,1)" font-size="9.65" font-weight="normal" font-style="normal" fill="#1a1a1a" stroke="#1a1a1a" stroke-width="0.64">19</text>
<text transform="translate(512.20,141.50) scale(0.896,1)" font-size="8.30" font-weight="bold" font-style="normal" fill="#1a1a1a" stroke="#1a1a1a" stroke-width="0.22">н</text>
<polyline points="675.6,137.3 685.8,144.1 713,144.1" stroke="#1a1a1a" stroke-width="1.0" fill="none" />
<text transform="translate(692.83,140.96) scale(0.592,1)" font-size="11.34" font-weight="normal" font-style="normal" fill="#1a1a1a" stroke="#1a1a1a" stroke-width="0.76">16</text>
<polyline points="499.5,184.2 531.1,184.2 539.3,194.8" stroke="#1a1a1a" stroke-width="1.0" fill="none" />
<text transform="translate(502.43,182.26) scale(0.530,1)" font-size="11.48" font-weight="normal" font-style="normal" fill="#1a1a1a" stroke="#1a1a1a" stroke-width="0.85">18</text>
<text transform="translate(513.10,182.50) scale(0.689,1)" font-size="11.51" font-weight="bold" font-style="normal" fill="#1a1a1a" stroke="#1a1a1a" stroke-width="0.29">н</text>
<polyline points="714.3,184.3 684.9,184.3 672.3,195.7" stroke="#1a1a1a" stroke-width="1.0" fill="none" />
<text transform="translate(694.23,180.66) scale(0.582,1)" font-size="11.21" font-weight="normal" font-style="normal" fill="#1a1a1a" stroke="#1a1a1a" stroke-width="0.77">15</text>
<polyline points="594.5,83 594.5,61.6 615.4,61.6" stroke="#1a1a1a" stroke-width="1.0" fill="none" />
<text transform="translate(599.52,60.17) scale(0.586,1)" font-size="11.52" font-weight="normal" font-style="normal" fill="#1a1a1a" stroke="#1a1a1a" stroke-width="0.77">7</text>
<polyline points="608.4,208.7 611.8,230.3 631.8,230.3" stroke="#1a1a1a" stroke-width="1.0" fill="none" />
<text transform="translate(615.12,228.78) scale(0.568,1)" font-size="10.94" font-weight="normal" font-style="normal" fill="#1a1a1a" stroke="#1a1a1a" stroke-width="0.79">7</text>
<line x1="486.6" y1="107.8" x2="486.6" y2="130" stroke="#1a1a1a" stroke-width="1.0" />
<polygon points="485.4,123 487.8,123 486.6,130" stroke="#1a1a1a" stroke-width="0.5" fill="#1a1a1a" />
<line x1="473.6" y1="130.9" x2="505.6" y2="130.9" stroke="#1a1a1a" stroke-width="2.0" />
<text transform="translate(475.43,126.57) scale(0.529,1)" font-size="13.12" font-weight="normal" font-style="normal" fill="#1a1a1a" stroke="#1a1a1a" stroke-width="0.85">4</text>
<line x1="736.5" y1="106.5" x2="736.5" y2="131" stroke="#1a1a1a" stroke-width="1.0" />
<polygon points="735.3,124 737.7,124 736.5,131" stroke="#1a1a1a" stroke-width="0.5" fill="#1a1a1a" />
<line x1="715.8" y1="131.4" x2="747.9" y2="131.4" stroke="#1a1a1a" stroke-width="2.0" />
<text transform="translate(743.23,127.67) scale(0.611,1)" font-size="13.12" font-weight="normal" font-style="normal" fill="#1a1a1a" stroke="#1a1a1a" stroke-width="0.74">4</text>
<text transform="translate(591.02,305.68) scale(0.569,1)" font-size="17.90" font-weight="normal" font-style="normal" fill="#1a1a1a" stroke="#1a1a1a" stroke-width="0.79">4</text>
<line x1="599.6" y1="300.5" x2="621.1" y2="300.5" stroke="#1a1a1a" stroke-width="1.3" />
<text transform="translate(625.33,305.68) scale(0.515,1)" font-size="17.32" font-weight="normal" font-style="normal" fill="#1a1a1a" stroke="#1a1a1a" stroke-width="0.87">4</text>
<line x1="577.4" y1="307.2" x2="640" y2="307.2" stroke="#1a1a1a" stroke-width="1.2" />
<polygon points="543.1,347.5 574.8,347.5 574.8,351 557.8,354.9 552.1,354.9" stroke="#1a1a1a" stroke-width="1.1" fill="#fff" />
<line x1="548" y1="349.2" x2="572" y2="349.2" stroke="#1a1a1a" stroke-width="1.6" />
<line x1="574.8" y1="347.5" x2="624.3" y2="347.5" stroke="#1a1a1a" stroke-width="1.1" />
<line x1="575.3" y1="351.3" x2="624.3" y2="351.3" stroke="#1a1a1a" stroke-width="1.0" />
<rect x="557.8" y="351.5" width="14.2" height="10.2" stroke="#1a1a1a" stroke-width="1.6" fill="url(#xdots)" />
<polygon points="557.5,362.2 572,362.2 572,365.6 556.1,365.6" stroke="#1a1a1a" stroke-width="1.0" fill="#fff" />
<line x1="572" y1="365.6" x2="626.8" y2="365.6" stroke="#1a1a1a" stroke-width="1.0" />
<polygon points="623.7,347.4 662.2,347.4 662.2,354.3 654.8,354.3 654.8,352.4 626.1,352.4" stroke="#1a1a1a" stroke-width="1.1" fill="#fff" />
<line x1="628" y1="349.3" x2="660" y2="349.3" stroke="#1a1a1a" stroke-width="1.6" />
<rect x="626.1" y="352.4" width="28.7" height="8.7" stroke="#1a1a1a" stroke-width="1.6" fill="url(#xdots)" />
<polygon points="628,361.7 653.5,361.7 652,366.7 629.5,366.7" stroke="#1a1a1a" stroke-width="1.0" fill="#fff" />
<line x1="631" y1="363.8" x2="650" y2="363.8" stroke="#1a1a1a" stroke-width="1.4" />
<ellipse cx="547.6" cy="356.6" rx="17" ry="17.7" stroke="#2a2a2a" stroke-width="0.95" fill="none"/>
<ellipse cx="623.4" cy="358.4" rx="17.1" ry="17.7" stroke="#2a2a2a" stroke-width="0.95" fill="none"/>
<ellipse cx="662.6" cy="359.6" rx="17.1" ry="18" stroke="#2a2a2a" stroke-width="0.95" fill="none"/>
<line x1="544.7" y1="362.8" x2="544.7" y2="414" stroke="#1a1a1a" stroke-width="1.0" />
<line x1="572.2" y1="347" x2="572.2" y2="400" stroke="#1a1a1a" stroke-width="1.0" />
<line x1="625.6" y1="360" x2="625.6" y2="400" stroke="#1a1a1a" stroke-width="1.0" />
<line x1="661.4" y1="356" x2="661.4" y2="414" stroke="#1a1a1a" stroke-width="1.0" />
<line x1="541.3" y1="394.6" x2="665.3" y2="394.6" stroke="#1a1a1a" stroke-width="1.0" />
<line x1="541.7" y1="397.6" x2="547.7" y2="391.6" stroke="#1a1a1a" stroke-width="1.0" />
<line x1="569.2" y1="397.6" x2="575.2" y2="391.6" stroke="#1a1a1a" stroke-width="1.0" />
<line x1="622.6" y1="397.6" x2="628.6" y2="391.6" stroke="#1a1a1a" stroke-width="1.0" />
<line x1="658.4" y1="397.6" x2="664.4" y2="391.6" stroke="#1a1a1a" stroke-width="1.0" />
<line x1="541.3" y1="411.4" x2="665.3" y2="411.4" stroke="#1a1a1a" stroke-width="1.0" />
<line x1="541.7" y1="414.4" x2="547.7" y2="408.4" stroke="#1a1a1a" stroke-width="1.0" />
<line x1="658.4" y1="414.4" x2="664.4" y2="408.4" stroke="#1a1a1a" stroke-width="1.0" />
<text transform="translate(552.52,392.67) scale(0.743,1)" font-size="10.35" font-weight="normal" font-style="normal" fill="#1a1a1a" stroke="#1a1a1a" stroke-width="0.61">770</text>
<text transform="translate(593.33,393.15) scale(0.671,1)" font-size="12.18" font-weight="normal" font-style="normal" fill="#1a1a1a" stroke="#1a1a1a" stroke-width="0.67">910</text>
<text transform="translate(634.12,392.66) scale(0.750,1)" font-size="11.48" font-weight="normal" font-style="normal" fill="#1a1a1a" letter-spacing="0.05" stroke="#1a1a1a" stroke-width="0.60">800</text>
<text transform="translate(593.33,409.16) scale(0.750,1)" font-size="11.48" font-weight="normal" font-style="normal" fill="#1a1a1a" letter-spacing="0.35" stroke="#1a1a1a" stroke-width="0.60">2480</text>
<polyline points="573.9,327.5 545.3,327.5 543.8,338.6" stroke="#1a1a1a" stroke-width="1.0" fill="none" />
<text transform="translate(554.02,325.18) scale(0.642,1)" font-size="12.97" font-weight="normal" font-style="normal" fill="#1a1a1a" stroke="#1a1a1a" stroke-width="0.70">41</text>
<text transform="translate(565.10,325.30) scale(0.561,1)" font-size="12.08" font-weight="bold" font-style="normal" fill="#1a1a1a" stroke="#1a1a1a" stroke-width="0.36">н</text>
<polyline points="648.3,327.5 621.4,327.5 618.2,340.2" stroke="#1a1a1a" stroke-width="1.0" fill="none" />
<text transform="translate(629.43,325.78) scale(0.631,1)" font-size="12.79" font-weight="normal" font-style="normal" fill="#1a1a1a" stroke="#1a1a1a" stroke-width="0.71">24</text>
<polyline points="705.2,327.5 675.3,327.5 670.5,343.4" stroke="#1a1a1a" stroke-width="1.0" fill="none" />
<text transform="translate(685.02,325.06) scale(0.750,1)" font-size="11.20" font-weight="normal" font-style="normal" fill="#1a1a1a" letter-spacing="1.77" stroke="#1a1a1a" stroke-width="0.60">37</text>
<rect x="769.4" y="322.9" width="59.7" height="70.6" stroke="#1a1a1a" stroke-width="1.3" fill="none" />
<rect x="769.4" y="322.9" width="59.7" height="3" stroke="#1a1a1a" stroke-width="1.0" fill="#999" />
<line x1="829.1" y1="322.9" x2="829.1" y2="393.5" stroke="#1a1a1a" stroke-width="1.5" />
<line x1="825.3" y1="327" x2="825.3" y2="393" stroke="#1a1a1a" stroke-width="1.0" stroke-dasharray="6,3"/>
<rect x="788.5" y="339.7" width="29.5" height="20" stroke="#1a1a1a" stroke-width="1.1" fill="none" />
<rect x="791.6" y="342.4" width="24.6" height="14.6" stroke="#1a1a1a" stroke-width="1.0" fill="none" />
<polygon points="788.5,339.7 790.9,342.4 790.9,357.6 816.2,357.6 818,359.7 788.5,359.7" stroke="#1a1a1a" stroke-width="0.6" fill="#444" />
</svg>
</body></html>
